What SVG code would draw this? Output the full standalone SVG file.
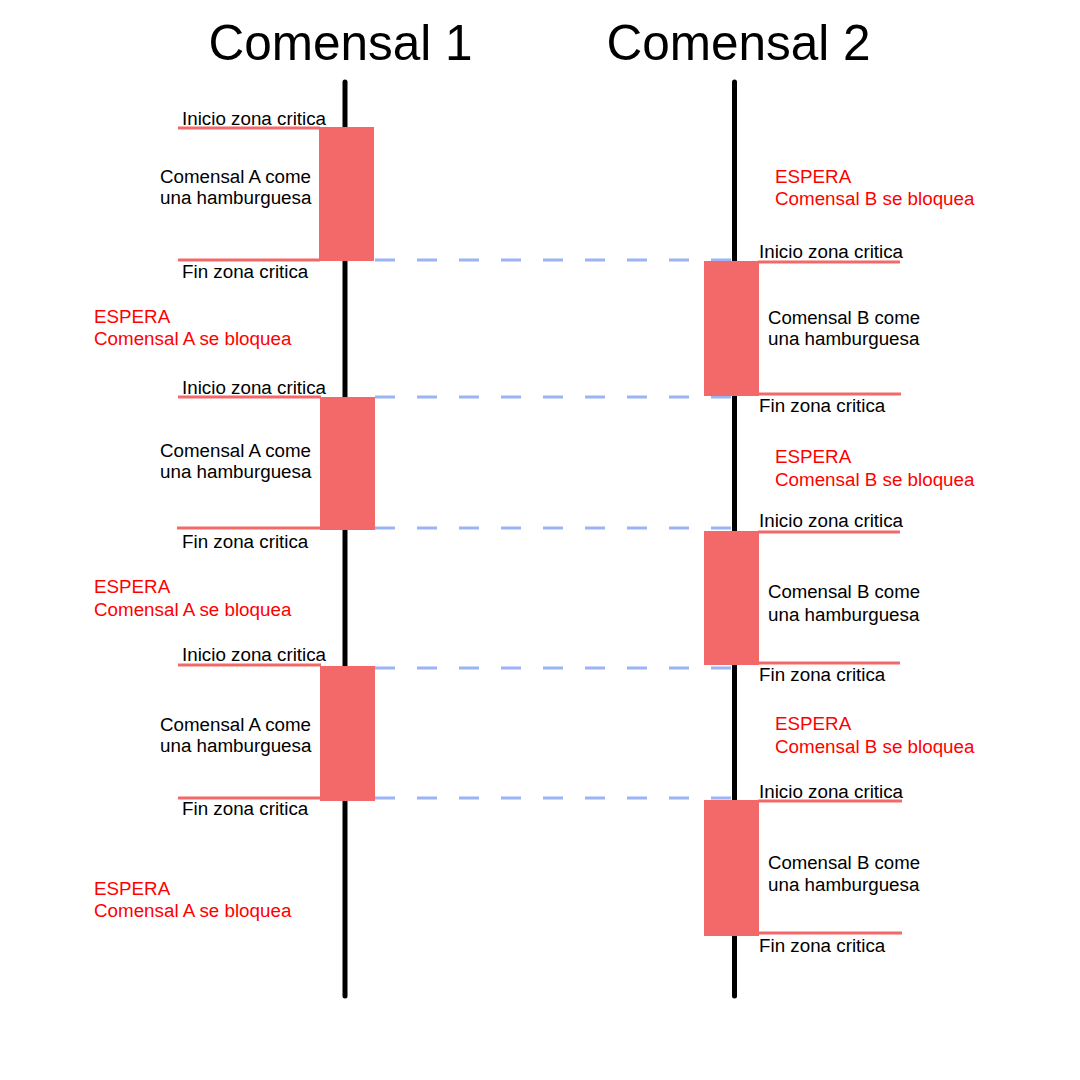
<svg xmlns="http://www.w3.org/2000/svg" width="1080" height="1080" viewBox="0 0 1080 1080">
<style>
text{font-family:"Liberation Sans",Arial,sans-serif;font-size:18.8px;fill:#000}
.title{font-size:49.5px;text-anchor:middle}
.red{fill:#ff0000}
.life{stroke:#000;stroke-width:5;stroke-linecap:round}
.blk{fill:#f36868}
.edge{stroke:#f36868;stroke-width:3}
.dash{stroke:#9ab4f6;stroke-width:3;stroke-dasharray:20 22;fill:none}
</style>
<rect width="1080" height="1080" fill="#fff"/>
<g id="lifelines">
<line class="life" x1="345" y1="82" x2="345" y2="996"/>
<line class="life" x1="734.5" y1="82" x2="734.5" y2="996"/>
</g>
<g id="connectors">
<line class="dash" x1="375" y1="260" x2="732" y2="260"/>
<line class="dash" x1="375" y1="397" x2="732" y2="397"/>
<line class="dash" x1="375" y1="528" x2="732" y2="528"/>
<line class="dash" x1="375" y1="668" x2="732" y2="668"/>
<line class="dash" x1="375" y1="798" x2="732" y2="798"/>
</g>
<g id="title1"><text class="title" x="340.5" y="60">Comensal 1</text></g>
<g id="title2"><text class="title" x="738.5" y="60">Comensal 2</text></g>
<g id="a1">
<line class="edge" x1="178" y1="128" x2="320" y2="128"/>
<line class="edge" x1="178" y1="260" x2="320" y2="260"/>
<rect class="blk" x="319" y="127" width="55" height="134"/>
<text x="182" y="125">Inicio zona critica</text>
<text x="160" y="183" textLength="151" lengthAdjust="spacingAndGlyphs">Comensal A come</text>
<text x="160" y="204">una hamburguesa</text>
<text x="182" y="278">Fin zona critica</text>
</g>
<g id="wa1"><text class="red" x="94" y="323">ESPERA</text><text class="red" x="94" y="345">Comensal A se bloquea</text></g>
<g id="a2">
<line class="edge" x1="178" y1="397" x2="321" y2="397"/>
<line class="edge" x1="177" y1="528" x2="321" y2="528"/>
<rect class="blk" x="320" y="397" width="55" height="133"/>
<text x="182" y="394">Inicio zona critica</text>
<text x="160" y="457" textLength="151" lengthAdjust="spacingAndGlyphs">Comensal A come</text>
<text x="160" y="478">una hamburguesa</text>
<text x="182" y="548">Fin zona critica</text>
</g>
<g id="wa2"><text class="red" x="94" y="593">ESPERA</text><text class="red" x="94" y="616">Comensal A se bloquea</text></g>
<g id="a3">
<line class="edge" x1="178" y1="665" x2="321" y2="665"/>
<line class="edge" x1="178" y1="798" x2="321" y2="798"/>
<rect class="blk" x="320" y="666" width="55" height="135"/>
<text x="182" y="661">Inicio zona critica</text>
<text x="160" y="731" textLength="151" lengthAdjust="spacingAndGlyphs">Comensal A come</text>
<text x="160" y="752">una hamburguesa</text>
<text x="182" y="815">Fin zona critica</text>
</g>
<g id="wa3"><text class="red" x="94" y="895">ESPERA</text><text class="red" x="94" y="917">Comensal A se bloquea</text></g>
<g id="wb1"><text class="red" x="775" y="183">ESPERA</text><text class="red" x="775" y="205">Comensal B se bloquea</text></g>
<g id="b1">
<line class="edge" x1="758" y1="262" x2="900" y2="262"/>
<line class="edge" x1="758" y1="394" x2="901" y2="394"/>
<rect class="blk" x="704" y="261" width="55" height="135"/>
<text x="759" y="258">Inicio zona critica</text>
<text x="768" y="324" textLength="152" lengthAdjust="spacingAndGlyphs">Comensal B come</text>
<text x="768" y="345">una hamburguesa</text>
<text x="759" y="412">Fin zona critica</text>
</g>
<g id="wb2"><text class="red" x="775" y="463">ESPERA</text><text class="red" x="775" y="486">Comensal B se bloquea</text></g>
<g id="b2">
<line class="edge" x1="758" y1="532" x2="900" y2="532"/>
<line class="edge" x1="758" y1="663" x2="900" y2="663"/>
<rect class="blk" x="704" y="531" width="55" height="134"/>
<text x="759" y="527">Inicio zona critica</text>
<text x="768" y="598" textLength="152" lengthAdjust="spacingAndGlyphs">Comensal B come</text>
<text x="768" y="621">una hamburguesa</text>
<text x="759" y="681">Fin zona critica</text>
</g>
<g id="wb3"><text class="red" x="775" y="730">ESPERA</text><text class="red" x="775" y="753">Comensal B se bloquea</text></g>
<g id="b3">
<line class="edge" x1="758" y1="801" x2="902" y2="801"/>
<line class="edge" x1="758" y1="933" x2="902" y2="933"/>
<rect class="blk" x="704" y="800" width="55" height="136"/>
<text x="759" y="798">Inicio zona critica</text>
<text x="768" y="869" textLength="152" lengthAdjust="spacingAndGlyphs">Comensal B come</text>
<text x="768" y="891">una hamburguesa</text>
<text x="759" y="952">Fin zona critica</text>
</g>
</svg>
